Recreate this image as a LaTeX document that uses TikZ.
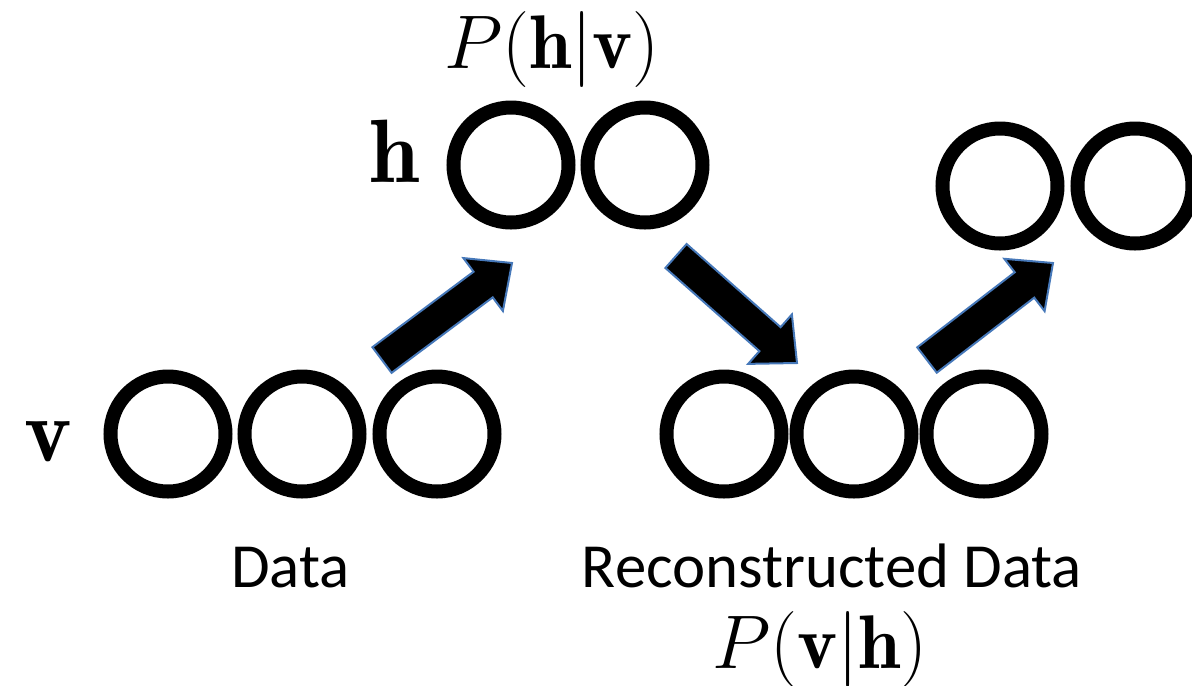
\RequirePackage{fix-cm}
\documentclass[tikz,border=0pt]{standalone}
\usepackage{fontspec}
\newfontfamily\labelfont{Carlito}
\usetikzlibrary{calc}
\definecolor{glow}{RGB}{70,120,185}
\tikzset{
  unit/.style={circle, draw=black, line width=3.5pt, minimum size=28.75pt, inner sep=0pt, fill=white},
  mathlbl/.style={anchor=base, inner sep=0pt, font=\fontsize{22.5}{24}\selectfont},
  problbl/.style={anchor=base, inner sep=0pt, font=\fontsize{19}{21}\selectfont},
  caption/.style={anchor=base, inner sep=0pt, font=\labelfont\fontsize{15.7}{17}\selectfont},
  blockarrow/.style={fill=black, draw=glow, line width=0.5pt, line join=miter}
}
\newcommand{\blockarrow}[2]{%
  \path[blockarrow]
    ($(#1)!4pt!90:(#2)$) --
    ($($(#2)!9pt!(#1)$)!4pt!90:(#2)$) --
    ($($(#2)!9pt!(#1)$)!8.25pt!90:(#2)$) --
    (#2) --
    ($($(#2)!9pt!(#1)$)!8.25pt!-90:(#2)$) --
    ($($(#2)!9pt!(#1)$)!4pt!-90:(#2)$) --
    ($(#1)!4pt!-90:(#2)$) -- cycle;}
\begin{document}
\begin{tikzpicture}[x=0.25pt, y=-0.25pt]
\useasboundingbox (0,0) rectangle (1192,686);
% visible layer (data)
\node[unit] (v1) at (168,434) {};
\node[unit] (v2) at (302,434) {};
\node[unit] (v3) at (437,434) {};
% hidden layer
\node[unit] (h1) at (511,165) {};
\node[unit] (h2) at (645,165) {};
% reconstructed visible layer
\node[unit] (r1) at (724,434) {};
\node[unit] (r2) at (854,434) {};
\node[unit] (r3) at (984,434) {};
% next hidden layer
\node[unit] (t1) at (1000,186) {};
\node[unit] (t2) at (1135,186) {};
% labels
\node[mathlbl] (vl) at (48,461) {$\mathbf{v}$};
\node[mathlbl] (hl) at (395,182) {$\mathbf{h}$};
\node[problbl] (phv) at (552,68) {$P(\mathbf{h}|\mathbf{v})$};
\node[problbl] (pvh) at (820,668) {$P(\mathbf{v}|\mathbf{h})$};
\node[caption] (dat) at (290.5,587) {Data};
\node[caption] (rec) at (832,587) {Reconstructed Data};
% arrows
\coordinate (a1s) at (382,360); \coordinate (a1e) at (512,263);
\coordinate (a2s) at (676,256); \coordinate (a2e) at (797,363);
\coordinate (a3s) at (927,360); \coordinate (a3e) at (1053,263);
\blockarrow{a1s}{a1e}
\blockarrow{a2s}{a2e}
\blockarrow{a3s}{a3e}
\end{tikzpicture}
\end{document}
